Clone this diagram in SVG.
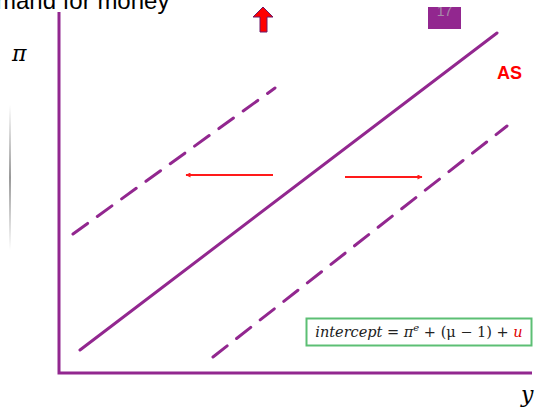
<svg xmlns="http://www.w3.org/2000/svg" width="540" height="410" viewBox="0 0 540 410">
<defs>
<style>
.ax{stroke:#92278f;stroke-width:3;fill:none}
.ln{stroke:#92278f;stroke-width:3;fill:none;stroke-linecap:round}
.dash{stroke-dasharray:18 12}
.red{stroke:#ff1a1a;stroke-width:2;fill:none}
.math{font-family:"DejaVu Serif","Liberation Serif",serif;font-style:italic}
</style>
<marker id="ah" viewBox="0 0 10 10" refX="9" refY="5" markerWidth="6" markerHeight="5" orient="auto" markerUnits="userSpaceOnUse">
<path d="M0,0 L10,5 L0,10 z" fill="#ff1a1a"/>
</marker>
<linearGradient id="gl" x1="0" y1="0" x2="0" y2="1">
<stop offset="0" stop-color="#ffffff"/>
<stop offset="0.5" stop-color="#999999"/>
<stop offset="1" stop-color="#ffffff"/>
</linearGradient>
<clipPath id="boxclip"><rect x="428" y="7" width="33" height="22"/></clipPath>
</defs>
<rect width="540" height="410" fill="#ffffff"/>
<text x="-4" y="9" font-family="Liberation Sans, sans-serif" font-size="24" fill="#000">mand for money</text>
<g id="up-arrow"><path d="M263,7 L273,17 L267,17 L267,32 L260,32 L260,17 L253,17 z" fill="#ff0000" stroke="#6a1b6a" stroke-width="1"/></g>
<g id="slide-number"><rect x="428" y="7" width="33" height="22" fill="#92278f"/><text x="444.5" y="16" text-anchor="middle" font-family="Liberation Sans, sans-serif" font-size="14" fill="#a88aa9" clip-path="url(#boxclip)">17</text></g>
<rect x="9" y="105" width="2" height="145" fill="url(#gl)"/>
<g id="axes">
<polyline class="ax" points="59,12 59,373 532,373"/>
</g>
<text class="math" x="12" y="61" font-size="22" fill="#000">π</text>
<text class="math" x="521" y="402" font-size="22" fill="#000">y</text>
<g id="connectors">
<line class="ln" x1="80" y1="350" x2="497" y2="33"/>
<line class="ln dash" x1="73" y1="234" x2="275" y2="88"/>
<line class="ln dash" x1="213" y1="357" x2="507" y2="126"/>
<line class="red" x1="273" y1="175" x2="186" y2="175" marker-end="url(#ah)"/>
<line class="red" x1="345" y1="177" x2="422" y2="177" marker-end="url(#ah)"/>
</g>
<g id="as-label"><text x="497" y="79" font-family="Liberation Sans, sans-serif" font-weight="bold" font-size="18" fill="#ff0000">AS</text></g>
<g id="formula">
<rect x="306.5" y="318.5" width="225" height="27" fill="#ffffff" stroke="#5cbf74" stroke-width="2"/>
<text x="419" y="337" text-anchor="middle" font-family="DejaVu Serif, Liberation Serif, serif" font-size="14.5" fill="#222"><tspan font-style="italic">intercept</tspan> = <tspan font-style="italic">π</tspan><tspan font-style="italic" font-size="10" dy="-6">e</tspan><tspan dy="6"> + (μ − 1) + </tspan><tspan font-style="italic" fill="#e00000">u</tspan></text>
</g>
</svg>
